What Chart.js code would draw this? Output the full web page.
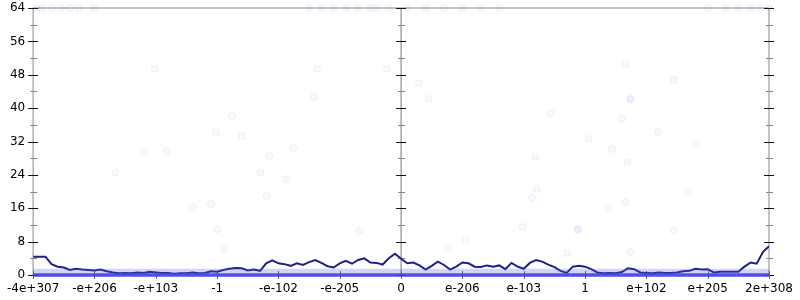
<!DOCTYPE html>
<html>
<head>
<meta charset="utf-8">
<script src="https://cdn.jsdelivr.net/npm/chart.js@4.4.1/dist/chart.umd.min.js"></script>
<style>
  html, body { margin: 0; padding: 0; background: #fff; }
  #wrap { width: 800px; height: 300px; }
</style>
</head>
<body>
<div id="wrap"><canvas id="chart"></canvas></div>
<script>
// x axis positions 0..12 carry these labels
const xLabels = ['-4e+307', '-e+206', '-e+103', '-1', '-e-102', '-e-205', '0',
                 'e-206', 'e-103', '1', 'e+102', 'e+205', '2e+308'];
const yMax = 64;
const yStep = 8;

// dark running line, one value every 0.1 on the x axis
const lineValues = [
  4.4, 4.4, 4.4, 2.6, 2.0, 1.8, 1.2, 1.5, 1.3, 1.2,
  1.1, 1.3, 0.9, 0.6, 0.4, 0.5, 0.4, 0.6, 0.5, 0.8,
  0.6, 0.5, 0.5, 0.3, 0.4, 0.4, 0.6, 0.4, 0.5, 0.9,
  0.8, 1.2, 1.5, 1.7, 1.6, 1.1, 1.3, 1.0, 2.8, 3.5,
  2.8, 2.6, 2.2, 2.8, 2.4, 3.1, 3.6, 2.9, 2.1, 1.8,
  2.8, 3.4, 2.7, 3.6, 4.0, 3.0, 2.9, 2.5, 4.0, 5.1,
  3.9, 2.8, 3.0, 2.3, 1.3, 2.2, 3.2, 2.4, 1.3, 2.0,
  3.0, 2.8, 2.0, 1.9, 2.3, 2.0, 2.3, 1.4, 2.9, 2.0,
  1.5, 2.9, 3.6, 3.2, 2.5, 1.9, 1.0, 0.5, 2.0, 2.2,
  2.0, 1.4, 0.6, 0.4, 0.5, 0.4, 0.7, 1.6, 1.4, 0.6,
  0.5, 0.4, 0.6, 0.5, 0.5, 0.6, 0.9, 1.0, 1.5, 1.3,
  1.4, 0.6, 0.8, 0.8, 0.8, 0.8, 2.0, 3.0, 2.7, 5.5,
  6.9
];

// faint scattered samples
const scatterX = [3.24, 2.98, 3.40, 4.24, 1.81, 2.18, 3.85, 1.34, 3.71, 4.13,
                  3.81, 2.60, 2.90, 3.00, 8.44, 9.60, 10.19, 10.81, 9.06, 9.44,
                  8.19, 9.69, 8.21, 8.13, 10.68, 9.66, 9.37, 7.98, 8.89, 9.74,
                  4.63, 5.77, 6.29, 4.58, 6.45, 9.66, 10.45, 9.74, 1.98, 3.11,
                  5.32, 6.77, 7.05, 8.71, 8.87, 9.74, 10.45];
const scatterY = [38.1, 34.1, 33.3, 30.5, 29.3, 29.7, 28.5, 24.5, 24.5, 23.0,
                  18.9, 16.3, 17.0, 11.0, 38.8, 37.4, 34.3, 31.2, 32.6, 30.2,
                  28.3, 27.1, 20.6, 18.5, 20.1, 17.3, 15.8, 11.5, 11.0, 42.0,
                  49.4, 49.4, 46.0, 42.7, 42.2, 50.6, 46.8, 42.4, 49.4, 6.2,
                  10.6, 6.7, 8.4, 5.3, 10.8, 5.5, 10.6];

// samples sitting on the top of the range
const topX = [0.05, 0.15, 0.3, 0.45, 0.6, 0.75, 1.0, 4.5, 4.7, 4.9, 5.1, 5.3,
              5.5, 5.6, 5.8, 6.1, 6.4, 6.7, 7.0, 7.3, 7.6, 11.0, 11.3, 11.5,
              11.7, 11.85, 12.0];

// dense cloud of samples between 0 and about 1.5
const bandTop = 1.5;

const axesPlugin = {
  id: 'gnuAxes',
  beforeDatasetsDraw(chart) {
    const { ctx, chartArea: a, scales: { x, y } } = chart;
    const seg = (x1, y1, x2, y2) => {
      ctx.beginPath(); ctx.moveTo(x1, y1); ctx.lineTo(x2, y2); ctx.stroke();
    };
    ctx.save();
    ctx.strokeStyle = '#b0b0b0';
    ctx.lineWidth = 1.5;
    seg(a.left, a.top, a.right, a.top);
    seg(a.left, a.top, a.left, a.bottom);
    seg(a.right, a.top, a.right, a.bottom);
    const cx = x.getPixelForValue(6);
    ctx.strokeStyle = '#777';
    ctx.lineWidth = 1;
    seg(cx, a.top, cx, a.bottom);

    // y ticks on the three vertical axes
    [a.left, cx, a.right].forEach(ax => {
      for (let v = 0; v <= yMax; v += yStep / 2) {
        const py = Math.round(y.getPixelForValue(v)) + 0.5;
        const major = v % yStep === 0;
        ctx.strokeStyle = major ? '#111' : '#888';
        ctx.lineWidth = 1;
        if (major) seg(ax - 5, py, ax + 5, py);
        else seg(ax - 3, py, ax + 4, py);
      }
    });

    // x ticks
    ctx.strokeStyle = '#666';
    for (let i = 0; i < xLabels.length; i++) {
      const px = Math.round(x.getPixelForValue(i)) + 0.5;
      seg(px, a.bottom - 4, px, a.bottom + 4);
    }
    ctx.restore();
  }
};

const font = { family: 'DejaVu Sans', size: 12 };

new Chart(document.getElementById('chart'), {
  type: 'scatter',
  data: {
    datasets: [
      {
        label: 'samples',
        data: scatterX.map((v, i) => ({ x: v, y: scatterY[i] }))
          .concat(topX.map(v => ({ x: v, y: yMax }))),
        backgroundColor: 'rgba(70,70,220,0.04)',
        borderColor: 'rgba(70,70,220,0.07)',
        borderWidth: 1,
        pointRadius: 3.5,
        clip: 5
      },
      {
        type: 'line',
        label: 'dense',
        data: [{ x: 0, y: bandTop }, { x: 12, y: bandTop }],
        backgroundColor: 'rgba(90,90,235,0.26)',
        borderWidth: 0,
        pointRadius: 0,
        fill: 'origin'
      },
      {
        type: 'line',
        label: 'zero',
        data: [{ x: 0, y: 0 }, { x: 12, y: 0 }],
        borderColor: 'rgba(60,60,230,0.9)',
        borderWidth: 3.5,
        pointRadius: 0,
        clip: 4
      },
      {
        type: 'line',
        label: 'running',
        data: lineValues.map((v, i) => ({ x: i / 10, y: v })),
        borderColor: '#1f1f8a',
        borderWidth: 2,
        pointRadius: 0,
        tension: 0
      }
    ]
  },
  options: {
    responsive: true,
    maintainAspectRatio: false,
    animation: false,
    layout: { padding: { top: 8, right: 27, left: 0, bottom: 0 } },
    plugins: { legend: { display: false }, tooltip: { enabled: false } },
    scales: {
      x: {
        type: 'linear',
        min: 0,
        max: 12,
        afterFit: s => { s.height = 25; },
        grid: { display: false, drawTicks: false },
        border: { display: false },
        ticks: {
          stepSize: 1,
          autoSkip: false,
          maxRotation: 0,
          padding: 7,
          color: '#000',
          font,
          callback: v => xLabels[v]
        }
      },
      y: {
        min: 0,
        max: yMax,
        afterFit: s => { s.width = 28; s.paddingTop = 0; s.paddingBottom = 0; },
        grid: { display: false, drawTicks: false },
        border: { display: false },
        ticks: { stepSize: yStep, padding: 8, color: '#000', font }
      }
    }
  },
  plugins: [axesPlugin]
});
</script>
</body>
</html>
